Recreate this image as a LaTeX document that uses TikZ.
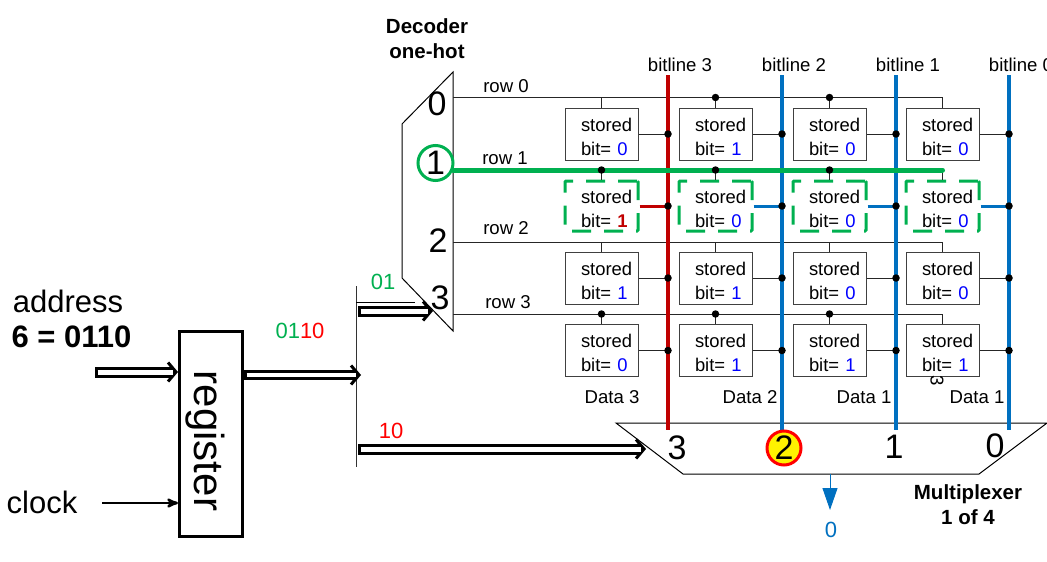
\documentclass[tikz,border=0pt]{standalone}
\usepackage{fontspec}
\setmainfont{Liberation Sans}
\usetikzlibrary{arrows, arrows.meta, positioning, shapes}
\definecolor{hotgreen}{HTML}{00B050}
\definecolor{lineblue}{HTML}{0070C0}
\definecolor{linered}{HTML}{C00000}
\tikzset{
        >=stealth', % arrow heads of the thin connectors
        every node/.style={inner sep=0pt},
        celltext/.style={font=\fontsize{18.4}{24}\selectfont, text width=73pt, align=left},
        cell/.style={celltext, draw=black!75, line width=1pt, minimum height=52pt},
        hotcell/.style={celltext, draw=hotgreen, line width=3pt, minimum height=50pt, rounded corners=1pt, dash pattern=on 19pt off 13pt},
        rowline/.style={black!85, line width=1pt},
        dot/.style={circle, fill=black, minimum size=7.5pt},
        bitline/.style={line width=3.7pt},
        small/.style={font=\fontsize{18.6}{20}\selectfont},
        digit/.style={font=\fontsize{34}{34}\selectfont},
        big/.style={font=\fontsize{31}{31}\selectfont},
        code/.style={font=\fontsize{22}{22}\selectfont},
        head/.style={font=\fontsize{20.5}{25}\selectfont\bfseries, align=center},
        bus/.style={line width=3pt, -{Straight Barb[length=8pt,width=19pt]}, % hollow wide arrow
            preaction={draw, -, line width=#1, shorten >=6pt},
            postaction={draw=white, -, line width=#1-6pt, shorten <=2.5pt, shorten >=5pt}},
        bus/.default=11pt,
    }
\newcommand{\stored}[2]{\hspace*{16pt}\rule{0pt}{19pt}stored\\\hspace*{16pt}bit= \textcolor{#1}{#2}}
\begin{document}
\begin{tikzpicture}[x=1pt,y=-1pt]
    \useasboundingbox (0,0) rectangle (1047,562);

    % decoder and multiplexer
    \draw[line width=1pt] (453,72) -- (402,124) -- (402,278) -- (453,331) -- cycle;
    \draw[line width=1pt] (616,423) -- (1047,423) -- (979,474) -- (683,474) -- cycle;
    \node[head] (decoder) at (427,39) {Decoder\\one-hot};
    \node[head] (mux) at (968,505) {Multiplexer\\1 of 4};
    \coordinate (dec0) at (453,97.5);
    \coordinate (dec1) at (453,170);
    \coordinate (dec2) at (453,242);
    \coordinate (dec3) at (453,314);
    \node[digit] (num0) at (437,104) {0};
    \node[digit, draw=hotgreen, line width=3pt, circle, minimum size=35pt] (num1) at (435.5,163) {1};
    \node[digit] (num2) at (438,241) {2};
    \node[digit] (num3) at (440,298) {3};
    \node[small] (row0) at (506,86) {row 0};
    \node[small] (row1) at (505,158) {row 1};
    \node[small] (row2) at (506,228) {row 2};
    \node[small] (row3) at (508,302) {row 3};

    % memory cells
    \node[cell] (c00) at (601.5,134) {\stored{blue}{0}};
    \node[cell] (c01) at (715.5,134) {\stored{blue}{1}};
    \node[cell] (c02) at (829.5,134) {\stored{blue}{0}};
    \node[cell] (c03) at (942.5,134) {\stored{blue}{0}};
    \node[hotcell] (c10) at (601.5,206) {\stored{linered}{\textbf{1}}};
    \node[hotcell] (c11) at (715.5,206) {\stored{blue}{0}};
    \node[hotcell] (c12) at (829.5,206) {\stored{blue}{0}};
    \node[hotcell] (c13) at (942.5,206) {\stored{blue}{0}};
    \node[cell] (c20) at (601.5,278) {\stored{blue}{1}};
    \node[cell] (c21) at (715.5,278) {\stored{blue}{1}};
    \node[cell] (c22) at (829.5,278) {\stored{blue}{0}};
    \node[cell] (c23) at (942.5,278) {\stored{blue}{0}};
    \node[cell] (c30) at (601.5,350.5) {\stored{blue}{0}};
    \node[cell] (c31) at (715.5,350.5) {\stored{blue}{1}};
    \node[cell] (c32) at (829.5,350.5) {\stored{blue}{1}};
    \node[cell] (c33) at (942.5,350.5) {\stored{blue}{1}};

    % word lines, green one is added last
    \foreach \r in {0,2,3} {
        \draw[rowline] (dec\r) -- (dec\r -| c\r3.north) -- (c\r3.north);
    }
    \foreach \r in {0,1,2,3} {
        \foreach \c in {0,1,2} {
            \draw[rowline] (dec\r -| c\r\c.north) -- (c\r\c.north);
        }
    }
    \draw[rowline] (dec1 -| c13.north) -- (c13.north);

    % bit lines
    \foreach \c/\x/\n/\col in {0/668/3/linered, 1/782/2/lineblue, 2/896/1/lineblue, 3/1009/0/lineblue} {
        \coordinate (bt\c) at (\x,75);
        \coordinate (bb\c) at (\x,430);
        \foreach \r in {0,2,3} {
            \draw[rowline] (c\r\c.east) -- (c\r\c.east -| bt\c);
        }
        \draw[\col, line width=3pt] (c1\c.east) -- (c1\c.east -| bt\c);
        \draw[bitline, \col] (bt\c) -- (bb\c);
        \foreach \r in {0,1,2,3} {
            \node[dot] (d\r\c) at (c\r\c.east -| bt\c) {};
        }
        \node[small, above=3pt of bt\c, xshift=12pt] (bl\c) {bitline \n};
    }
    \draw[hotgreen, line width=5pt, line cap=round] (dec1) -- (dec1 -| c13.north);
    \foreach \r/\c in {0/1,0/2,1/0,1/1,1/2,3/0,3/1,3/2} {
        \node[dot] (w\r\c) at (dec\r -| c\r\c.north) {};
    }

    % column names
    \node[small] (data3) at (612,397) {Data 3};
    \node[small] (data2) at (750,397) {Data 2};
    \node[small] (data1) at (864,397) {Data 1};
    \node[small] (data0) at (977,397) {Data 1};
    \node[small, rotate=-90] (stray) at (937,381) {3};

    % multiplexer inputs and output
    \node[digit] (m3) at (677,448) {3};
    \node[digit, circle, draw=red, fill=yellow, line width=3pt, minimum size=34pt] (m2) at (784,448) {2};
    \node[digit] (m1) at (894,447) {1};
    \node[digit] (m0) at (995,446) {0};
    \coordinate (mout) at (830,474);
    \coordinate (mtip) at (830,510);
    \node[code, lineblue] (out) at (831,530) {0};
    \draw[lineblue, line width=1pt, -{Triangle[width=15pt,length=22pt]}] (mout) -- (mtip);

    % register and buses
    \node[draw, line width=3pt, minimum width=63pt, minimum height=205pt] (reg) at (211,433.5) {};
    \node[rotate=-90, font=\fontsize{42}{42}\selectfont] (regtext) at (205,441) {register};
    \node[big] (addr) at (68,301) {address};
    \node[font=\fontsize{31}{31}\selectfont\bfseries] (addrval) at (71.5,337) {6 = 0110};
    \node[big] (clk) at (42,502) {clock};
    \coordinate (addrin) at (95,372);
    \coordinate (clkin) at (102,503);
    \draw[bus] (addrin) -- (addrin -| reg.west);
    \draw[line width=2.5pt, ->] (clkin) -- (clkin -| reg.west);
    \coordinate (split) at (356,375);
    \coordinate (splittop) at (356,286);
    \coordinate (splitbot) at (356,467);
    \draw[black!80, line width=1pt] (splittop) -- (splitbot);
    \draw[bus=10pt] (reg.east |- split) -- ([xshift=5pt]split);
    \coordinate (dectap) at (358,311);
    \coordinate (dechead) at (433,311);
    \coordinate (muxtap) at (358,449);
    \coordinate (muxhead) at (646,449);
    \coordinate (thinstart) at (356,302.5);
    \coordinate (thinend) at (415,302.5);
    \draw[line width=.7pt] (thinstart) -- (thinend);
    \draw[bus] (dectap) -- (dechead);
    \draw[bus] (muxtap) -- (muxhead);
    \node[code, hotgreen] (lab01) at (383,282) {01};
    \node[code, red] (lab10) at (391,431) {10};
    \node[code] (lab0110) at (300,331) {\textcolor{hotgreen}{01}\textcolor{red}{10}};
\end{tikzpicture}
\end{document}
